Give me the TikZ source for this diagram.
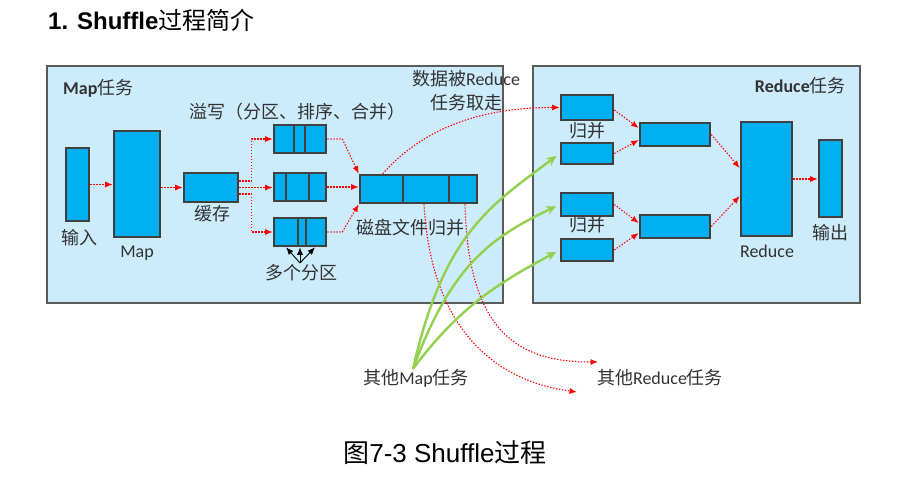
\documentclass[tikz,border=0pt]{standalone}
\usepackage{fontspec}
\setmainfont{Carlito}
\newfontfamily\cjk{Noto Sans CJK SC}
\newfontfamily\arialf{Liberation Sans}
\usetikzlibrary{arrows.meta}
\definecolor{taskblue}{RGB}{204,236,252}
\definecolor{taskgray}{RGB}{90,90,90}
\definecolor{blkblue}{RGB}{0,176,240}
\definecolor{blkgray}{RGB}{64,64,64}
\definecolor{fetchgreen}{RGB}{146,208,80}
\definecolor{lblgray}{RGB}{50,50,50}
\begin{document}
\begin{tikzpicture}[x=1pt, y=-1pt,
	task/.style={draw=taskgray, fill=taskblue, line width=1.2pt},
	blk/.style={draw=blkgray, fill=blkblue, line width=2.6pt, inner sep=0pt},
	div/.style={blkgray, line width=1.8pt},
	flow/.style={red, line width=1.1pt, dash pattern=on 1.4pt off 1.6pt, -{Latex[length=7.5pt,width=6pt]}},
	fetch/.style={fetchgreen, line width=2.4pt, -{Stealth[length=10pt,width=9pt]}, shorten >=4pt},
	fork/.style={black, line width=0.9pt, -{Latex[length=7.5pt,width=6pt]}},
	lbl/.style={text=lblgray, font=\fontsize{18}{22}\selectfont, inner sep=0pt}]
			\useasboundingbox (0,0) rectangle (924,492);
			
			\node[anchor=west, inner sep=0pt, font=\fontsize{24}{28}\selectfont] (title) at (48,20) {{\arialf\bfseries 1. Shuffle}{\cjk 过程简介}};
			
			\filldraw[task] (47,66) rectangle (503,303);
			\filldraw[task] (533,66) rectangle (860,303);
			\node[lbl, anchor=west] (maptask) at (63,88) {{\bfseries Map}{\cjk 任务}};
			\node[lbl, anchor=east] (redtask) at (846,86) {{\bfseries Reduce}{\cjk 任务}};
			
			\node[blk, minimum width=23, minimum height=73] (inp) at (77.5,184.5) {};
			\node[blk, minimum width=46, minimum height=106] (map) at (137,184) {};
			\node[blk, minimum width=54, minimum height=29] (buf) at (211,187.5) {};
			\node[blk, minimum width=52, minimum height=28] (p1) at (300,139) {};
			\node[blk, minimum width=52, minimum height=28] (p2) at (300,187) {};
			\node[blk, minimum width=52, minimum height=28] (p3) at (300,232) {};
			\node[blk, minimum width=117, minimum height=28] (disk) at (418.5,189) {};
			\draw[div] (294,125) -- (294,153);
			\draw[div] (305,125) -- (305,153);
			\draw[div] (286,173) -- (286,201);
			\draw[div] (309,173) -- (309,201);
			\draw[div] (298,218) -- (298,246);
			\draw[div] (306,218) -- (306,246);
			\draw[div] (403,175) -- (403,203);
			\draw[div] (449,175) -- (449,203);
			
			\node[blk, minimum width=52, minimum height=25] (a1) at (587,107.5) {};
			\node[blk, minimum width=52, minimum height=21] (a2) at (587,153.5) {};
			\node[blk, minimum width=52, minimum height=23] (b1) at (587,204.5) {};
			\node[blk, minimum width=52, minimum height=22] (b2) at (587,250) {};
			\node[blk, minimum width=70, minimum height=23] (c1) at (675,134.5) {};
			\node[blk, minimum width=70, minimum height=23] (c2) at (675,226.5) {};
			\node[blk, minimum width=51, minimum height=114] (red) at (766.5,179) {};
			\node[blk, minimum width=23, minimum height=77] (out) at (830.5,178.5) {};
			
			\node[lbl] (inlbl) at (79,238) {{\cjk 输入}};
			\node[lbl] (maplbl) at (137,253) {Map};
			\node[lbl] (buflbl) at (212,214) {{\cjk 缓存}};
			\node[lbl, anchor=west] (spill) at (189,112) {{\cjk 溢写（分区、排序、合并）}};
			\node[lbl] (parts) at (301,273) {{\cjk 多个分区}};
			\node[lbl] (disklbl) at (410,228) {{\cjk 磁盘文件归并}};
			\node[lbl, align=center, font=\fontsize{18}{24}\selectfont] (fetchlbl) at (466,91) {{\cjk 数据被}Reduce\\{\cjk 任务取走}};
			\node[lbl] (mergea) at (587,131) {{\cjk 归并}};
			\node[lbl] (mergeb) at (587,225) {{\cjk 归并}};
			\node[lbl] (redlbl) at (767,251) {Reduce};
			\node[lbl] (outlbl) at (830,233) {{\cjk 输出}};
			\node[lbl] (othmap) at (416,378) {{\cjk 其他}Map{\cjk 任务}};
			\node[lbl] (othred) at (660,378) {{\cjk 其他}Reduce{\cjk 任务}};
			
			\node[inner sep=0pt, font=\fontsize{26}{30}\selectfont] (caption) at (445,453) {{\cjk 图}{\arialf 7-3 Shuffle}{\cjk 过程}};
			
			\draw[flow] (inp.east) -- (inp.east -| map.west);
			\draw[flow] (map.east |- buf.west) -- (buf.west);
			\draw[flow] ([yshift=6.5pt]buf.east) -- ++(12,0) |- (p1.west);
			\draw[flow] (buf.east) -- (buf.east -| p2.west);
			\draw[flow] ([yshift=-6.5pt]buf.east) -- ++(12,0) |- (p3.west);
			\draw[flow] (p1.east) -- ++(15,0) -- (disk.north west);
			\draw[flow] (p2.east) -- (p2.east -| disk.west);
			\draw[flow] (p3.east) -- ++(15,0) -- (disk.south west);
			
			\coordinate (fork) at (300,263);
			\draw[fork] (fork) -- ([xshift=-14pt]p3.south);
			\draw[fork] (fork) -- (p3.south);
			\draw[fork] (fork) -- ([xshift=15pt]p3.south);
			
			\draw[flow] ([xshift=24pt]disk.north west) .. controls +(40,-45) and +(-80,0) .. (a1.west);
			\coordinate (othred1) at (577,392);
			\coordinate (othred2) at (598,362);
			\draw[flow] ([xshift=5.5pt]disk.south) .. controls +(8,140) and +(-67,-9) .. (othred1);
			\draw[flow] ([xshift=46.5pt]disk.south) .. controls +(3,130) and +(-78,0) .. (othred2);
			
			\draw[flow] ([yshift=-2.5pt]a1.east) -- ([yshift=6.5pt]c1.west);
			\draw[flow] (a2.east) -- ([yshift=-5.5pt]c1.west);
			\draw[flow] (b1.east) -- ([yshift=3.5pt]c2.west);
			\draw[flow] (b2.east) -- ([yshift=-6.5pt]c2.west);
			\draw[flow] (c1.east) -- ([yshift=11pt]red.west);
			\draw[flow] (c2.east) -- ([yshift=-17pt]red.west);
			\draw[flow] (red.east) -- (red.east -| out.west);
			
			\draw[fetch] ([xshift=-3pt]othmap.north) .. controls +(31,-136) and +(-69,52) .. (a2.west);
			\draw[fetch] ([xshift=-3pt]othmap.north) .. controls +(38,-103) and +(-70,33.5) .. (b1.west);
			\draw[fetch] ([xshift=-3pt]othmap.north) .. controls +(48,-64) and +(-59,32) .. (b2.west);
		\end{tikzpicture}
\end{document}
